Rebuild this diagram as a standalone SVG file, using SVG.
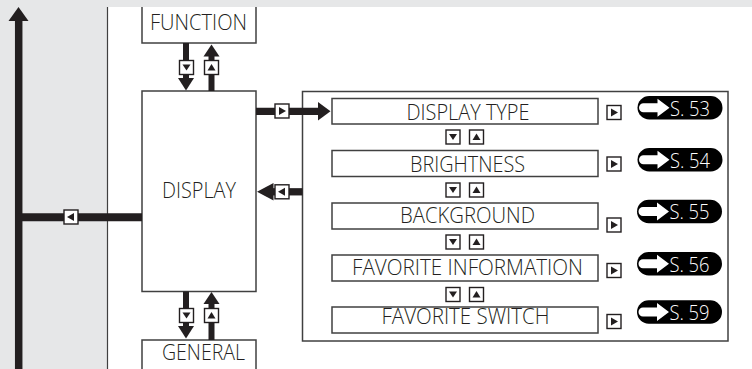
<svg xmlns="http://www.w3.org/2000/svg" xmlns:xlink="http://www.w3.org/1999/xlink" width="752" height="369" viewBox="0 0 752 369">
<style>
.bg{fill:#e6e7e8}
.box{fill:#fff;stroke:#404040;stroke-width:1.5}
.lbl{font-family:"Open Sans","Noto Sans","DejaVu Sans",sans-serif;font-weight:300;font-size:22px;fill:#231f20;text-anchor:middle}
.pt{font-family:"Open Sans","Noto Sans","DejaVu Sans",sans-serif;font-weight:300;font-size:21px;fill:#fff}
.ink{fill:#231f20}
.shaft{stroke:#231f20;fill:none}
.sb{fill:#fff;stroke:#231f20;stroke-width:1.4}
</style>
<defs>
<g id="bD"><rect class="sb" x="0" y="0" width="14" height="14"/><polygon class="ink" points="3,4 11,4 7,10"/></g>
<g id="bU"><rect class="sb" x="0" y="0" width="14" height="14"/><polygon class="ink" points="7,3.5 11,10 3,10"/></g>
<g id="bR"><rect class="sb" x="0" y="0" width="14" height="14"/><polygon class="ink" points="4,3 11,7 4,11"/></g>
<g id="bL"><rect class="sb" x="0" y="0" width="14" height="14"/><polygon class="ink" points="10,3 3,7 10,11"/></g>
<g id="pill"><rect x="0" y="-11.75" width="85" height="23.5" rx="11.75" fill="#000"/><path d="M6 -4.5 H20 V-9 L32 0 L20 9 V4.5 H6 A4.5 4.5 0 0 1 6 -4.5 Z" fill="#fff"/></g>
</defs>
<rect class="bg" x="0" y="0" width="752" height="369"/>
<rect x="108" y="7" width="644" height="362" fill="#fff"/>
<line x1="107.5" y1="7" x2="107.5" y2="369" stroke="#404040" stroke-width="1.2"/>

<g id="function"><rect class="box" x="142" y="-5" width="114" height="48"/><text class="lbl" x="198.5" y="30" textLength="97" lengthAdjust="spacingAndGlyphs">FUNCTION</text></g>
<g id="display"><rect class="box" x="142" y="91" width="114" height="200.5"/><text class="lbl" x="199" y="198" textLength="74" lengthAdjust="spacingAndGlyphs">DISPLAY</text></g>
<g id="general"><rect class="box" x="142" y="340" width="114" height="40"/><text class="lbl" x="203.5" y="360" textLength="83" lengthAdjust="spacingAndGlyphs">GENERAL</text></g>

<g id="group"><rect class="box" x="302.5" y="91.5" width="425.5" height="249.5"/></g>

<g id="displaytype"><rect class="box" x="332" y="98.5" width="266" height="25.5"/><text class="lbl" x="468" y="120" textLength="123" lengthAdjust="spacingAndGlyphs">DISPLAY TYPE</text></g>
<g id="brightness"><rect class="box" x="332" y="150.5" width="266" height="26"/><text class="lbl" x="467.5" y="171.5" textLength="115" lengthAdjust="spacingAndGlyphs">BRIGHTNESS</text></g>
<g id="background"><rect class="box" x="332" y="203" width="266" height="26"/><text class="lbl" x="467.5" y="222.5" textLength="135" lengthAdjust="spacingAndGlyphs">BACKGROUND</text></g>
<g id="favinfo"><rect class="box" x="332" y="255" width="266" height="26"/><text class="lbl" x="467.5" y="274.5" textLength="231" lengthAdjust="spacingAndGlyphs">FAVORITE INFORMATION</text></g>
<g id="favswitch"><rect class="box" x="332" y="307" width="266" height="26"/><text class="lbl" x="465.5" y="324" textLength="168" lengthAdjust="spacingAndGlyphs">FAVORITE SWITCH</text></g>

<g id="refs">
<use xlink:href="#pill" href="#pill" x="637.5" y="107.7"/><text class="pt" x="670" y="115.5" textLength="40" lengthAdjust="spacingAndGlyphs">S. 53</text>
<use xlink:href="#pill" href="#pill" x="637.5" y="159.8"/><text class="pt" x="670" y="167.6" textLength="40" lengthAdjust="spacingAndGlyphs">S. 54</text>
<use xlink:href="#pill" href="#pill" x="637" y="211.5"/><text class="pt" x="669.5" y="219.3" textLength="40" lengthAdjust="spacingAndGlyphs">S. 55</text>
<use xlink:href="#pill" href="#pill" x="637" y="263.7"/><text class="pt" x="669.5" y="271.5" textLength="40" lengthAdjust="spacingAndGlyphs">S. 56</text>
<use xlink:href="#pill" href="#pill" x="637" y="312"/><text class="pt" x="669.5" y="319.8" textLength="40" lengthAdjust="spacingAndGlyphs">S. 59</text>
</g>

<g id="connectors">
<line class="shaft" x1="18.7" y1="20" x2="18.7" y2="369" stroke-width="7.5"/>
<polygon class="ink" points="18.5,7 28.5,21 8.5,21"/>
<line class="shaft" x1="18" y1="217.3" x2="142" y2="217.3" stroke-width="8"/>
<use xlink:href="#bL" href="#bL" x="64" y="210"/>
<line class="shaft" x1="186" y1="43" x2="186" y2="79" stroke-width="6"/>
<polygon class="ink" points="178,78 194,78 186,90.5"/>
<use xlink:href="#bD" href="#bD" x="179.5" y="60.5"/>
<line class="shaft" x1="211.5" y1="55" x2="211.5" y2="91" stroke-width="6"/>
<polygon class="ink" points="211.5,44.5 219.5,56.5 203.5,56.5"/>
<use xlink:href="#bU" href="#bU" x="204.5" y="60.5"/>
<line class="shaft" x1="186" y1="291.5" x2="186" y2="327" stroke-width="6"/>
<polygon class="ink" points="178,326 194,326 186,338.5"/>
<use xlink:href="#bD" href="#bD" x="179.5" y="308.5"/>
<line class="shaft" x1="211.5" y1="302" x2="211.5" y2="340" stroke-width="6"/>
<polygon class="ink" points="211.5,292 219.5,304 203.5,304"/>
<use xlink:href="#bU" href="#bU" x="204.5" y="308.5"/>
<line class="shaft" x1="256" y1="111.3" x2="319" y2="111.3" stroke-width="7.3"/>
<polygon class="ink" points="318,102 330.5,111.3 318,120.5"/>
<use xlink:href="#bR" href="#bR" x="275" y="104"/>
<line class="shaft" x1="272" y1="191.8" x2="302.5" y2="191.8" stroke-width="7.3"/>
<polygon class="ink" points="273.5,183 257,191.8 273.5,200.5"/>
<use xlink:href="#bL" href="#bL" x="275" y="184.8"/>
<use xlink:href="#bD" href="#bD" x="446" y="130"/><use xlink:href="#bU" href="#bU" x="469.5" y="130"/>
<use xlink:href="#bD" href="#bD" x="446" y="183"/><use xlink:href="#bU" href="#bU" x="469.5" y="183"/>
<use xlink:href="#bD" href="#bD" x="446" y="235"/><use xlink:href="#bU" href="#bU" x="469.5" y="235"/>
<use xlink:href="#bD" href="#bD" x="446" y="287.5"/><use xlink:href="#bU" href="#bU" x="469.5" y="287.5"/>
<use xlink:href="#bR" href="#bR" x="607" y="105.5"/>
<use xlink:href="#bR" href="#bR" x="607" y="157"/>
<use xlink:href="#bR" href="#bR" x="607" y="218"/>
<use xlink:href="#bR" href="#bR" x="607" y="263.5"/>
<use xlink:href="#bR" href="#bR" x="607" y="314.5"/>
</g>
<rect class="bg" x="0" y="0" width="752" height="7"/>
</svg>
